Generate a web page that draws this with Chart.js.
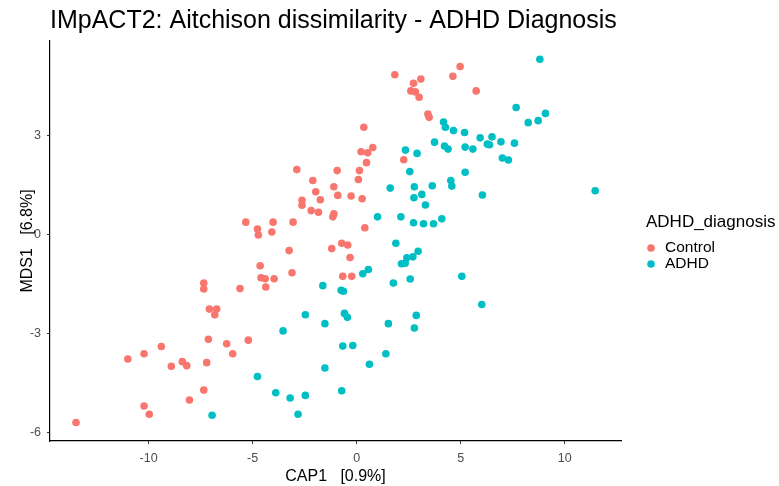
<!DOCTYPE html>
<html>
<head>
<meta charset="utf-8">
<script src="https://cdn.jsdelivr.net/npm/chart.js@4/dist/chart.umd.min.js"></script>
<style>
    html, body { margin: 0; padding: 0; background: #fff; }
    #wrap { width: 779px; height: 486px; }
</style>
</head>
<body>
<div id="wrap"><canvas id="chart-0"></canvas></div>
<script>
var groups = ['Control', 'ADHD'];
var groupColors = ['#F8766D', '#00BFC4'];

var xTicks = [-10, -5, 0, 5, 10];
var yTicks = [-6, -3, 0, 3];

// Control: CAP1 / MDS1
var controlX = [-2.88, -0.94, -2.11, -1.10, -1.97, -0.91, -2.63, -1.75, -2.63, -2.19,
    -1.84, -1.10, -1.15, -5.33, -4.02, -3.06, -4.77, -4.73, -4.08, -3.25,
    -1.20, -4.64, -3.11, -4.60, -4.40, -3.97, -4.37, -7.35, -7.35, -5.61,
    -7.08, -6.73, -6.82, -7.13, -6.25, -5.21, -5.96, -9.39, -10.22, -11.00,
    -8.91, -8.38, -8.17, -7.21, -7.35, -8.04, -10.22, -9.97, -13.49, 1.83,
    4.97, 4.62, 3.08, 2.73, 2.60, 2.82, 3.00, 5.74, 3.42, 3.48,
    0.34, 0.77, 0.21, 0.53, 0.47, 2.26, 0.13, 0.08, -0.27, 0.26,
    0.39, -0.72, -0.43, -0.32, -0.67, -0.24];
var controlY = [1.96, 1.93, 1.63, 1.44, 1.29, 1.18, 1.03, 1.05, 0.88, 0.72,
    0.67, 0.62, 0.53, 0.37, 0.37, 0.37, 0.16, -0.02, 0.07, -0.49,
    -0.43, -0.95, -1.16, -1.31, -1.34, -1.34, -1.59, -1.47, -1.65, -1.64,
    -2.26, -2.26, -2.43, -3.17, -3.31, -3.20, -3.61, -3.39, -3.61, -3.77,
    -3.99, -3.85, -3.97, -3.88, -4.71, -5.01, -5.19, -5.44, -5.69, 4.83,
    5.08, 4.78, 4.70, 4.57, 4.34, 4.31, 4.15, 4.34, 3.64, 3.54,
    3.24, 2.63, 2.50, 2.47, 2.17, 2.26, 1.93, 1.66, 1.16, 1.08,
    0.20, -0.27, -0.32, -0.70, -1.27, -1.27];

// ADHD: CAP1 / MDS1
var adhdX = [8.80, 7.66, 9.07, 8.24, 8.72, 4.17, 4.26, 4.65, 5.18, 5.93,
    6.50, 6.93, 7.58, 6.28, 6.38, 3.74, 4.22, 4.39, 5.21, 5.58,
    2.34, 2.90, 7.00, 7.29, 2.55, 5.21, 1.61, 2.77, 3.63, 4.52,
    4.57, 3.13, 2.75, 6.04, 11.46, 3.30, 1.00, 2.12, 2.73, 3.21,
    3.69, 4.09, 1.88, 2.95, 2.70, 2.41, 2.33, 2.15, 0.56, 0.29,
    2.57, 1.76, 5.05, -0.75, -0.64, 6.01, -0.59, -0.45, 2.86, 1.52,
    2.77, -0.67, -0.19, 1.40, 0.61, -0.72, -1.63, -2.47, -1.53, -3.54,
    -1.53, -4.77, -3.89, -3.20, -2.47, -2.82, -6.95];
var adhdY = [5.30, 3.84, 3.66, 3.38, 3.44, 3.40, 3.24, 3.14, 3.08, 2.92,
    2.95, 2.80, 2.76, 2.73, 2.71, 2.79, 2.67, 2.58, 2.64, 2.58,
    2.55, 2.45, 2.31, 2.25, 1.90, 1.88, 1.40, 1.44, 1.47, 1.63,
    1.46, 1.21, 1.11, 1.19, 1.32, 0.89, 0.53, 0.53, 0.35, 0.32,
    0.32, 0.47, -0.27, -0.51, -0.68, -0.71, -0.87, -0.89, -1.06, -1.19,
    -1.35, -1.47, -1.27, -1.69, -1.72, -2.12, -2.39, -2.51, -2.45, -2.70,
    -2.83, -3.38, -3.36, -3.61, -3.93, -4.73, -1.55, -2.43, -2.70, -2.92,
    -4.04, -4.30, -4.79, -4.95, -4.87, -5.44, -5.47];

function toPoints(xs, ys) {
    var pts = [];
    for (var i = 0; i < xs.length; i++) {
        pts.push({x: xs[i], y: ys[i]});
    }
    return pts;
}

var seriesX = [controlX, adhdX],
    seriesY = [controlY, adhdY];

var datasets = [];
for (var g = 0; g < groups.length; g++) {
    datasets.push({
        label: groups[g],
        data: toPoints(seriesX[g], seriesY[g]),
        backgroundColor: groupColors[g],
        borderWidth: 0,
        pointRadius: 3.8,
        pointHoverRadius: 3.8
    });
}

var FONT = 'Arial, "Liberation Sans", sans-serif';

// ggplot-like title and legend, drawn beside the plot panel
var decorations = {
    id: 'decorations',
    afterDraw: function (chart) {
        var ctx = chart.ctx,
            area = chart.chartArea;
        ctx.save();
        ctx.fillStyle = '#000';
        ctx.textAlign = 'left';
        ctx.textBaseline = 'middle';
        ctx.font = '25px ' + FONT;
        ctx.fillText('IMpACT2: Aitchison dissimilarity - ADHD Diagnosis', area.left, 21);

        ctx.font = '17px ' + FONT;
        ctx.fillText('ADHD_diagnosis', 646, 222);
        ctx.font = '15.5px ' + FONT;
        for (var i = 0; i < groups.length; i++) {
            var cy = 248 + i * 16;
            ctx.fillStyle = groupColors[i];
            ctx.beginPath();
            ctx.arc(651, cy, 3.8, 0, Math.PI * 2);
            ctx.fill();
            ctx.fillStyle = '#000';
            ctx.fillText(groups[i], 665, cy);
        }
        ctx.restore();
    }
};

var axisGrid = {
    display: true,
    drawOnChartArea: false,
    drawTicks: true,
    tickLength: 3,
    color: '#333333'
};

new Chart('chart-0', {
    type: 'scatter',
    data: {datasets: datasets},
    plugins: [decorations],
    options: {
        responsive: true,
        maintainAspectRatio: false,
        animation: false,
        layout: {
            padding: {top: 41, right: 158, bottom: 0, left: 0}
        },
        plugins: {
            legend: {display: false},
            title: {display: false},
            tooltip: {enabled: false}
        },
        scales: {
            x: {
                type: 'linear',
                min: -14.74,
                max: 12.7,
                grid: axisGrid,
                border: {display: true, color: '#000', width: 1.2},
                ticks: {
                    color: '#4D4D4D',
                    font: {family: FONT, size: 12.5},
                    padding: 7,
                    maxRotation: 0
                },
                afterBuildTicks: function (scale) {
                    scale.ticks = xTicks.map(function (v) { return {value: v}; });
                },
                afterFit: function (scale) {
                    scale.height = 45;
                },
                title: {
                    display: true,
                    text: 'CAP1   [0.9%]',
                    color: '#000',
                    font: {family: FONT, size: 16},
                    padding: {top: 7, bottom: 0}
                }
            },
            y: {
                type: 'linear',
                min: -6.25,
                max: 5.85,
                grid: axisGrid,
                border: {display: true, color: '#000', width: 1.2},
                ticks: {
                    color: '#4D4D4D',
                    font: {family: FONT, size: 12.5},
                    padding: 6
                },
                afterBuildTicks: function (scale) {
                    scale.ticks = yTicks.map(function (v) { return {value: v}; });
                },
                afterFit: function (scale) {
                    scale.width = 50;
                },
                title: {
                    display: true,
                    text: 'MDS1   [6.8%]',
                    color: '#000',
                    font: {family: FONT, size: 16},
                    padding: {top: 18, bottom: 0}
                }
            }
        }
    }
});
</script>
</body>
</html>
